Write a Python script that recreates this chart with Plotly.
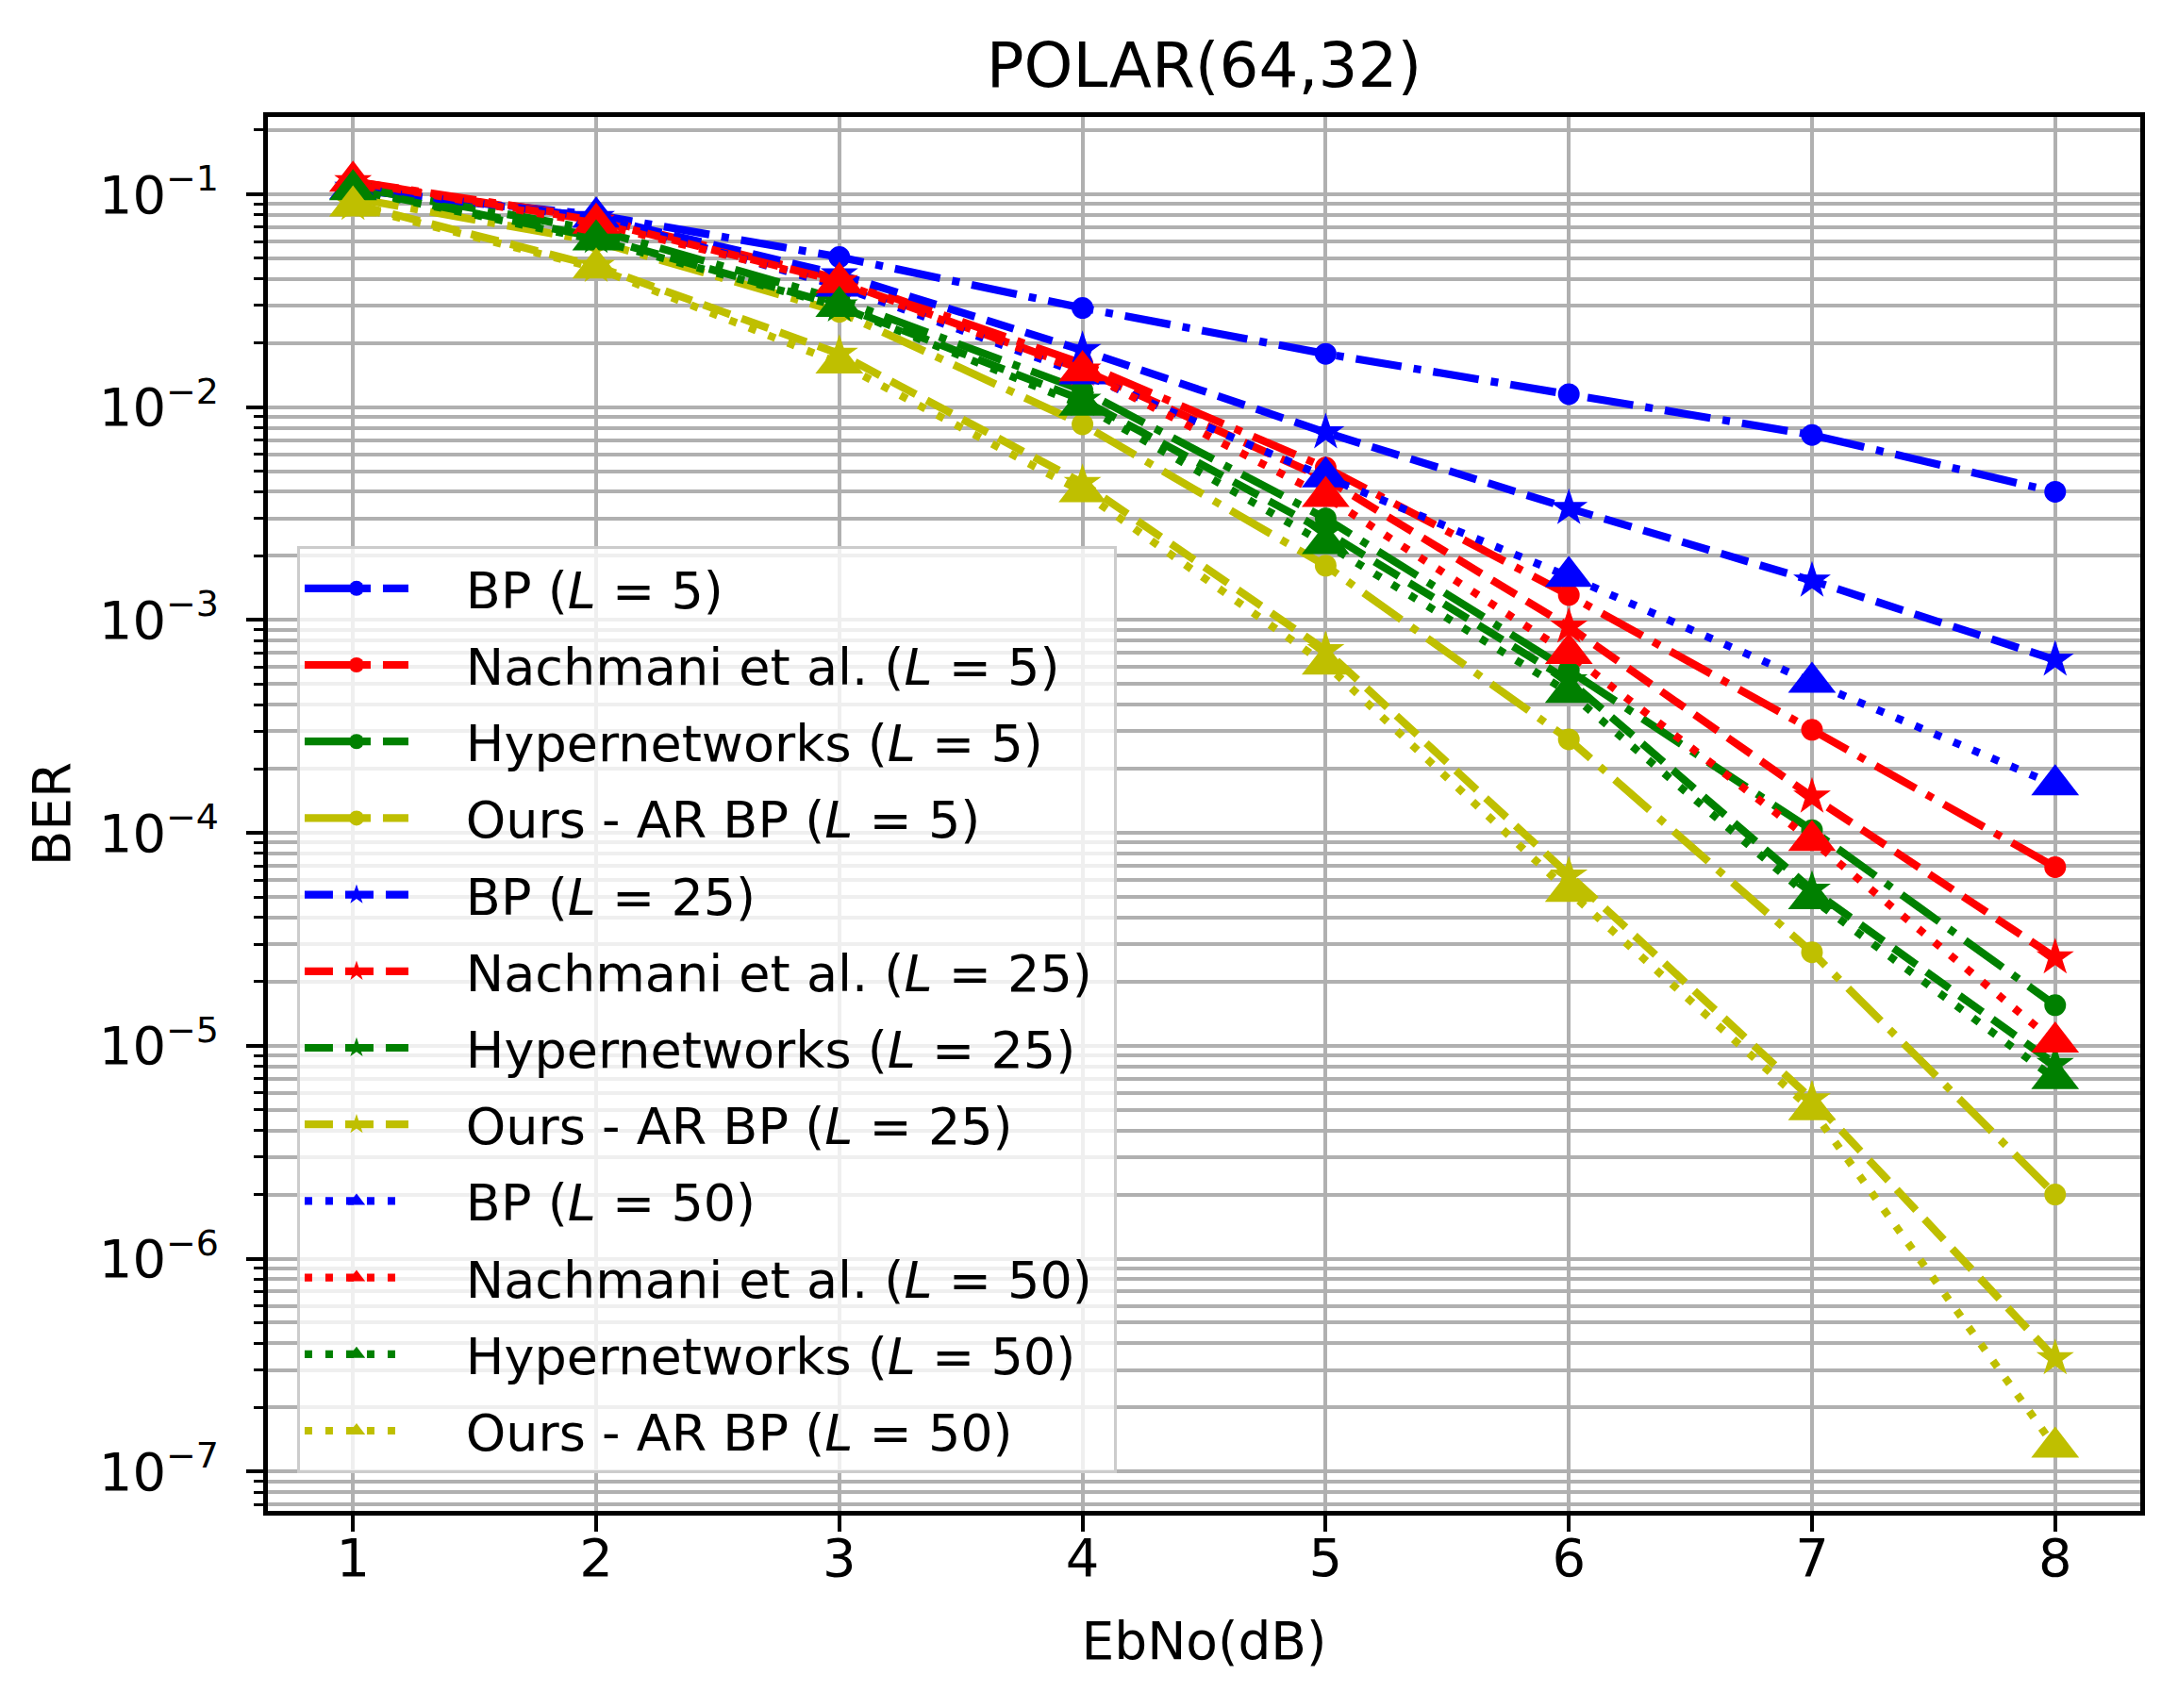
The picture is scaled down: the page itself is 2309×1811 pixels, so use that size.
import plotly.graph_objects as go

# Eb/No points (dB)
ebno = [1, 2, 3, 4, 5, 6, 7, 8]

# BER curves, L = 5 iterations
bp_5 = [0.105, 0.080, 0.0507, 0.0292, 0.0178, 0.0115, 0.0074, 0.0040]
nach_5 = [0.115, 0.077, 0.040, 0.0160, 0.0052, 0.00131, 0.000305, 0.000069]
hyper_5 = [0.108, 0.068, 0.032, 0.0120, 0.0030, 0.00058, 0.000103, 0.0000155]
ours_5 = [0.096, 0.060, 0.028, 0.0083, 0.00180, 0.000275, 0.0000275, 0.0000020]

# L = 25
bp_25 = [0.107, 0.078, 0.042, 0.0185, 0.0076, 0.00335, 0.00153, 0.00065]
nach_25 = [0.115, 0.075, 0.039, 0.0150, 0.0046, 0.00093, 0.000148, 0.000026]
hyper_25 = [0.105, 0.063, 0.030, 0.0108, 0.0026, 0.00052, 0.000054, 0.0000082]
ours_25 = [0.090, 0.046, 0.0178, 0.0044, 0.00072, 0.000063, 0.0000056, 3.4e-7]

# L = 50
bp_50 = [0.106, 0.078, 0.037, 0.0143, 0.0047, 0.0016, 0.00051, 0.000168]
nach_50 = [0.115, 0.073, 0.0384, 0.0148, 0.0038, 0.000695, 0.000092, 0.0000104]
hyper_50 = [0.105, 0.061, 0.0297, 0.0102, 0.00228, 0.000457, 0.000049, 0.0000070]
ours_50 = [0.088, 0.045, 0.0161, 0.0040, 0.00062, 0.000053, 0.0000050, 1.3e-7]

# y tick labels
ber_ticks = [1e-7, 1e-6, 1e-5, 1e-4, 1e-3, 1e-2, 1e-1]
ber_exps = ["7", "6", "5", "4", "3", "2", "1"]

methods = ["BP", "Nachmani et al.", "Hypernetworks", "Ours - AR BP"]
colors = ["#0000ff", "#ff0000", "#008000", "#bfbf00"]

FONT = "DejaVu Sans"
LW = 8.2
# matplotlib-like dash patterns scaled by line width
dash_styles = {
    5: "49px,13px,8px,13px",   # dash-dot
    25: "30px,13px",           # dashed
    50: "8px,14px",            # dotted
}
symbols = {5: "circle", 25: "star", 50: "triangle-up"}
sizes = {5: 23, 25: 30, 50: 44}

series = [
    (5, [bp_5, nach_5, hyper_5, ours_5]),
    (25, [bp_25, nach_25, hyper_25, ours_25]),
    (50, [bp_50, nach_50, hyper_50, ours_50]),
]

# the page body has an 8px margin, so the figure is shifted by that much
OFF = 8
W, H = 2309 - OFF, 1811 - OFF

fig = go.Figure()

lead = "\u00a0\u00a0\u2009\u2009"
trail = "\u00a0"
n = 0
for L, curves in series:
    for name, col, ber in zip(methods, colors, curves):
        fig.add_trace(go.Scatter(
            x=ebno, y=ber,
            mode="lines+markers",
            name=f"{lead}{name} (<i>L</i> = {L}){trail}",
            legendgroup=f"g{n}",
            line=dict(color=col, width=LW, dash=dash_styles[L]),
            marker=dict(symbol=symbols[L], size=sizes[L], color=col,
                        line=dict(width=0)),
        ))
        n += 1

fig.update_layout(
    width=W, height=H,
    margin=dict(l=284 - OFF, r=40, t=124 - OFF, b=209, pad=0),
    paper_bgcolor="white", plot_bgcolor="white",
    font=dict(family=FONT, color="black"),
    title=dict(text="POLAR(64,32)", font=dict(size=66, family=FONT),
               x=0.5, xref="paper", xanchor="center",
               y=1 - 61 / H, yref="container", yanchor="middle"),
    legend=dict(x=0.0156, y=0.692, xanchor="left", yanchor="top",
                bgcolor="rgba(255,255,255,0.8)", bordercolor="#cccccc",
                borderwidth=3, font=dict(size=54, family=FONT),
                itemwidth=110, tracegroupgap=8),
    showlegend=True,
)

fig.update_xaxes(
    range=[0.65, 8.35], tickvals=ebno,
    showgrid=True, gridcolor="#b0b0b0", gridwidth=3.5,
    ticks="outside", ticklen=17, tickwidth=3.5, tickcolor="black",
    showline=True, linecolor="black", linewidth=4.5, mirror=True,
    zeroline=False, tickfont=dict(size=56), ticklabelstandoff=-20,
    title=dict(text="EbNo(dB)", font=dict(size=55), standoff=39),
)

fig.update_yaxes(
    type="log", range=[-7.185, -0.637],
    tickmode="array", tickvals=ber_ticks,
    ticktext=[f"10<sup><span style='font-size:38px'>\u2212{e}</span></sup>"
              for e in ber_exps],
    showgrid=True, gridcolor="#b0b0b0", gridwidth=3.5,
    ticks="outside", ticklen=18, tickwidth=3.5, tickcolor="black",
    minor=dict(dtick="D1", ticks="outside", ticklen=10, tickwidth=3,
               tickcolor="black", showgrid=True, gridcolor="#b0b0b0",
               gridwidth=3.5),
    showline=True, linecolor="black", linewidth=4.5, mirror=True,
    zeroline=False, tickfont=dict(size=56), ticklabelstandoff=18,
    title=dict(text="BER", font=dict(size=55), standoff=14),
)

fig.write_html("out.html")
